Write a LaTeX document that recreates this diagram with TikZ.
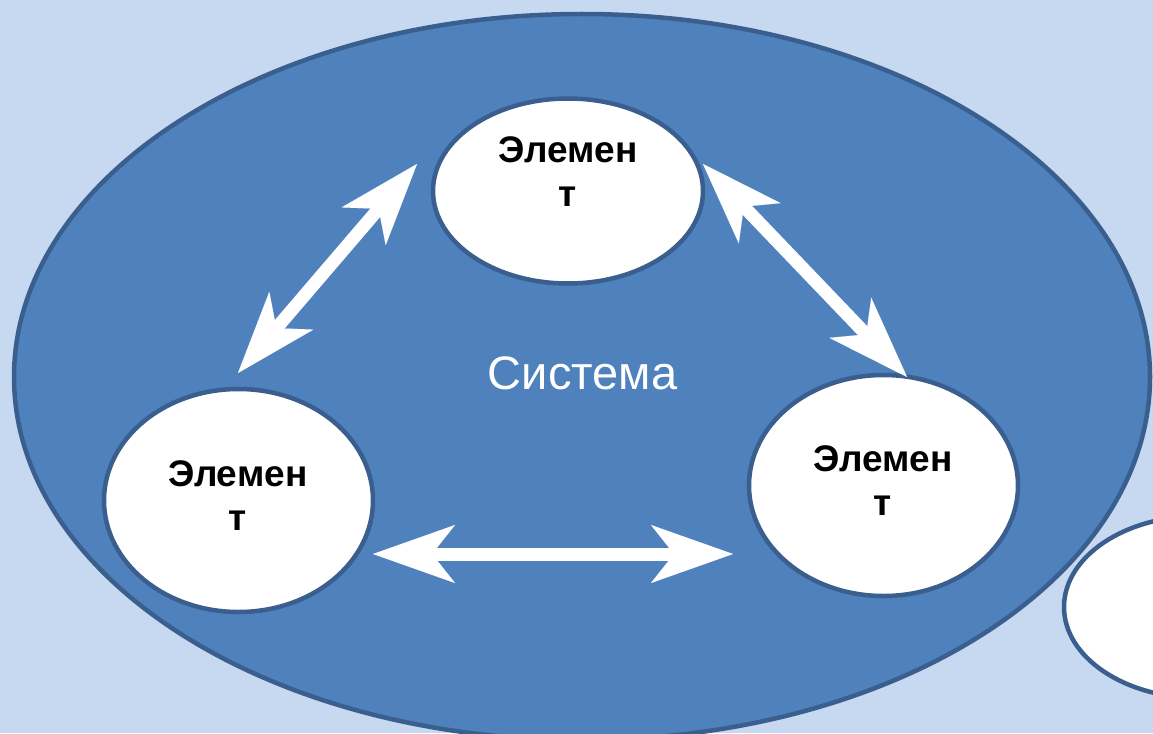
\documentclass[tikz,border=0pt]{standalone}
\usepackage{fontspec}
\setmainfont{Liberation Sans}
\usetikzlibrary{shapes.geometric,arrows.meta}
\definecolor{bgc}{HTML}{C6D9F1}
\definecolor{sysfill}{HTML}{4F81BD}
\definecolor{edgec}{HTML}{3A5F8E}
\begin{document}
\begin{tikzpicture}[x=1pt,y=-1pt,
  outline/.style={ellipse, draw=edgec, line width=4.5pt, inner sep=0pt, outer sep=0pt},
  elem/.style={outline, fill=white},
  elemtext/.style={font=\bfseries\fontsize{37}{44}\selectfont, align=center, anchor=north, inner sep=0pt, text=black},
  systext/.style={font=\fontsize{47}{55}\selectfont, anchor=base, inner sep=0pt, text=white},
  link/.style={draw=white, line width=13pt,
    {Stealth[length=82pt,width=58pt,inset=23pt,line width=0.01pt]}-{Stealth[length=82pt,width=58pt,inset=23pt,line width=0.01pt]}},
]
\useasboundingbox (0,0) rectangle (1153,733);
\begin{scope}
\clip (0,0) rectangle (1153,733);
\fill[bgc] (0,0) rectangle (1153,733);
\node[outline, fill=sysfill, minimum width=1136pt, minimum height=726pt] (sys) at (582,377) {};
\node[systext] (syslabel) at (582.5,389) {Система};
\node[elem, minimum width=270pt, minimum height=185pt] (top) at (568,191) {};
\node[elem, minimum width=269pt, minimum height=223pt] (left) at (238.5,500.5) {};
\node[elem, minimum width=269pt, minimum height=221pt] (right) at (883.5,485.5) {};
\node[elem, minimum width=270pt, minimum height=182pt] (extra) at (1199,607) {};
\node[elemtext] (toplabel) at (568,136.5) {Элемен\\т};
\node[elemtext] (leftlabel) at (238,460.5) {Элемен\\т};
\node[elemtext] (rightlabel) at (883,445.5) {Элемен\\т};
\coordinate (tl) at (417,164);
\coordinate (lt) at (238,373);
\coordinate (tr) at (703,164);
\coordinate (rt) at (907,377);
\coordinate (lr) at (373,554);
\coordinate (rl) at (733,554);
\draw[link] (lt) -- (tl);
\draw[link] (tr) -- (rt);
\draw[link] (lr) -- (rl);
\end{scope}
\end{tikzpicture}
\end{document}
